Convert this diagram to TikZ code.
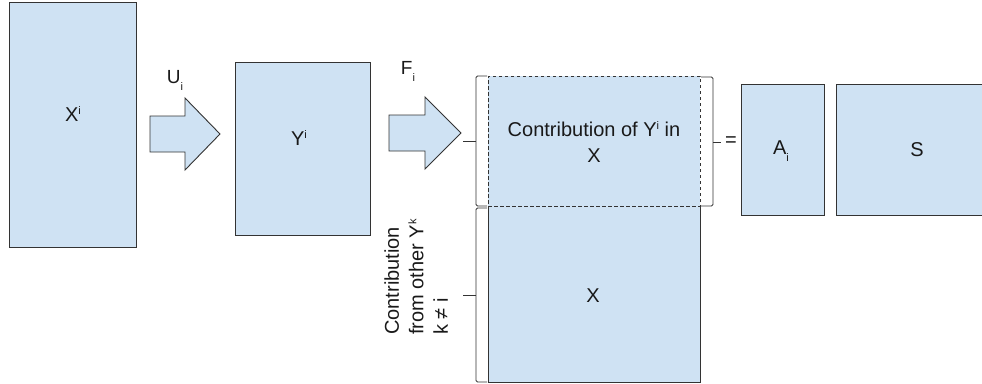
\documentclass[tikz,border=0pt]{standalone}
\usepackage{fontspec}
\setmainfont{Liberation Sans}
\definecolor{cblue}{HTML}{CFE2F3}
\definecolor{cline}{HTML}{333333}
\newcommand\supi[1]{\raisebox{7pt}{\fontsize{11}{11}\selectfont #1}}
\newcommand\subi[1]{\raisebox{-7pt}{\fontsize{11}{11}\selectfont #1}}
\begin{document}
\begin{tikzpicture}[x=1pt,y=-1pt,
  mat/.style={draw=cline, fill=cblue, line width=0.9pt, inner sep=0pt, outer sep=0pt, anchor=north west},
  dmat/.style={mat, dash pattern=on 3.5pt off 2.5pt},
  edge/.style={draw=cline, line width=0.9pt},
  lbl/.style={font=\fontsize{20}{24}\selectfont, inner sep=0pt, text=black!90},
  brace/.style={draw=cline, line width=0.8pt, rounded corners=1.5pt},
  bigarrow/.style={draw=cline, fill=cblue, line width=0.9pt, line join=miter}]
\useasboundingbox (0,0) rectangle (982,383);
\clip (0,0) rectangle (982,383);
% boxes
\node[mat, minimum width=127pt, minimum height=245pt] (xi) at (9,2) {};
\node[mat, minimum width=135pt, minimum height=173pt] (yi) at (235,62) {};
\node[mat, draw=none, minimum width=212pt, minimum height=176pt] (xlow) at (488,206) {};
\draw[edge] (xlow.north west) -- (xlow.south west) -- (xlow.south east) -- (xlow.north east);
\node[dmat, minimum width=212pt, minimum height=130pt] (xtop) at (488,76) {};
\node[mat, minimum width=83pt, minimum height=131pt] (ai) at (741,84) {};
\node[mat, minimum width=160pt, minimum height=131pt] (s) at (836,84) {};
% arrows
\draw[bigarrow] (150,116) -- (185,116) -- (185,98) -- (220,134) -- (185,170) -- (185,152) -- (150,152) -- cycle;
\draw[bigarrow] (389,115) -- (425,115) -- (425,97) -- (461,133) -- (425,169) -- (425,151) -- (389,151) -- cycle;
% braces
\draw[brace] (487,76) -- (476,76) -- (476,206) -- (487,206);
\draw[brace] (476,141) -- (463,141);
\draw[brace] (701,77) -- (713,77) -- (713,206) -- (701,206);
\draw[brace] (713,142) -- (721,142);
\draw[brace] (487,208) -- (476,208) -- (476,382) -- (487,382);
\draw[brace] (476,295) -- (463,295);
% labels
\node[lbl] (lxi) at (73,114) {X\supi{i}};
\node[lbl] (lyi) at (299,138) {Y\supi{i}};
\node[lbl, font=\fontsize{19}{23}\selectfont] (lu) at (175,80) {U\subi{i}};
\node[lbl, font=\fontsize{19}{23}\selectfont] (lf) at (408,71) {F\subi{i}};
\node[lbl, align=center, font=\fontsize{20}{26}\selectfont] (ltop) at (594,142) {Contribution of Y\supi{i} in\\X};
\node[lbl] (llow) at (593,296) {X};
\node[lbl] (lai) at (781,151) {A\subi{i}};
\node[lbl] (ls) at (917,150) {S};
\node[lbl] (leq) at (731,142) {=};
\node[lbl, rotate=90, align=left, font=\fontsize{20}{24.5}\selectfont] (lother) at (416,277) {Contribution\\from other Y\supi{k}\\k ≠ i};
\end{tikzpicture}
\end{document}
